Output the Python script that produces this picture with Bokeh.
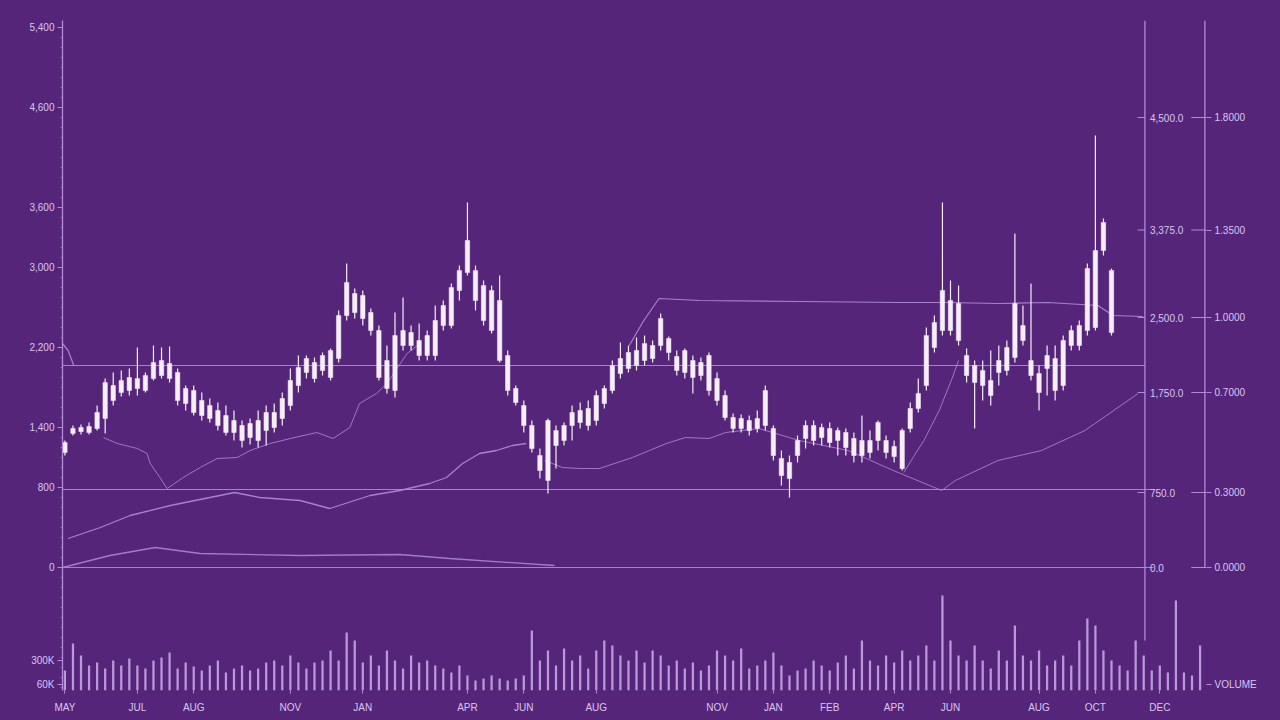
from bokeh.plotting import figure
from bokeh.models import (Range1d, LinearAxis, FixedTicker, NumeralTickFormatter)
from bokeh.core.properties import value
from bokeh.embed import file_html
from bokeh.resources import INLINE

# ---------------- data ----------------
opens = [1150,1340,1360,1350,1390,1490,1820,1750,1770,1890,1770,1890,1920,2040,1950,1790,1770,1670,1620,1570,
         1520,1470,1420,1300,1270,1370,1400,1490,1620,1820,1950,2050,1970,1900,2090,2520,2740,2720,2550,2370,
         2070,1770,2220,2350,2270,2120,2120,2420,2420,2770,2950,2970,2820,2770,2670,2120,1790,1620,1420,1120,
         870,1370,1270,1420,1450,1590,1470,1640,1770,1940,1990,2020,2070,2220,2220,2290,2110,1950,2070,1920,
         2120,1890,1720,1500,1390,1470,1390,1420,1390,1090,1050,1120,1290,1420,1300,1390,1370,1350,1290,1120,
         1270,1270,1270,1210,990,1390,1590,1820,2200,2370,2670,2640,2120,2020,1820,1870,1950,1970,2100,2420,
         2070,1940,1990,1770,1820,2220,2220,2370,2400,3170,2970]
highs = [1270,1420,1430,1450,1620,1890,1950,1970,1990,2200,1950,2220,2200,2210,1990,1820,1820,1750,1690,1650,
         1620,1570,1470,1490,1570,1620,1640,1750,1990,2120,2120,2100,2150,2190,2570,3040,2790,2770,2590,2420,
         2220,2550,2700,2420,2440,2370,2620,2670,2840,3020,3650,3020,2870,2820,2920,2170,1820,1670,1470,1190,
         1490,1420,1450,1620,1650,1670,1770,1820,2070,2250,2220,2300,2320,2270,2540,2310,2170,2190,2120,2100,
         2150,1950,1770,1540,1530,1520,1570,1820,1420,1170,1120,1320,1470,1470,1440,1450,1400,1390,1350,1520,
         1370,1470,1320,1270,1390,1650,1890,2400,2520,3650,2870,2820,2190,2070,2070,2170,2220,2270,3340,2620,
         2840,2020,2220,2220,2320,2420,2470,3040,4320,3490,2990]
lows = [1120,1320,1330,1330,1370,1340,1620,1710,1720,1720,1750,1870,1890,1850,1620,1570,1520,1470,1450,1370,
        1320,1270,1200,1230,1200,1220,1350,1420,1570,1750,1890,1850,1920,1870,2050,2470,2490,2420,2320,1870,
        1740,1700,2170,2170,2070,2070,2070,2370,2390,2670,2920,2570,2420,2340,2050,1720,1620,1350,1150,890,
        740,990,1220,1270,1390,1370,1420,1590,1740,1890,1950,1970,2020,2050,2170,2070,1920,1890,1740,1870,
        1720,1620,1470,1350,1350,1320,1350,1370,1070,820,700,1050,1190,1220,1220,1200,1120,1120,1050,1050,
        1090,1170,1090,1050,970,1350,1550,1770,2150,2320,2320,2220,1850,1390,1670,1620,1820,1920,2050,2220,
        1870,1570,1720,1670,1770,2170,2170,2320,2370,3120,2320]
closes = [1250,1390,1400,1410,1550,1850,1670,1870,1900,1790,1920,2050,2070,1890,1670,1640,1550,1520,1490,1420,
          1350,1350,1270,1440,1470,1550,1550,1690,1870,2000,2090,1890,2120,2170,2520,2850,2550,2490,2370,1900,
          1790,2320,2370,2220,2120,2320,2470,2620,2800,2970,3270,2670,2470,2370,2070,1770,1650,1420,1190,970,
          1470,1220,1420,1550,1570,1420,1720,1790,2020,2090,2150,2170,2240,2090,2490,2150,1970,2170,1900,2050,
          1770,1670,1500,1390,1490,1370,1490,1770,1120,920,890,1270,1420,1270,1400,1250,1270,1200,1120,1270,
          1150,1450,1150,1110,1370,1590,1740,2320,2450,2770,2370,2270,1920,1850,1970,1720,2070,2200,2640,2270,
          1920,1750,2120,2090,2270,2370,2420,2990,3170,3450,2350]

volume_k = [200,470,350,250,280,220,300,250,320,250,220,300,330,380,220,280,240,200,250,300,
            180,220,250,200,220,280,300,250,350,280,220,280,300,400,300,580,500,280,350,250,
            400,300,220,350,280,300,250,220,180,250,150,100,120,150,120,100,120,150,600,300,
            400,250,420,300,350,220,400,500,450,350,300,400,280,400,350,250,300,220,280,200,
            250,400,350,300,420,220,250,300,380,250,150,200,220,300,250,200,280,350,220,500,
            300,250,350,280,400,300,350,450,300,950,500,350,300,450,300,220,400,300,650,350,
            300,400,250,300,350,250,500,720,650,400,300,250,200,500,350,200,250,180,900,180,
            150,450]

# moving-average style lines (x = bar index, y = price)
ma_upper_x = [70.1, 71.9, 73.8, 78.8, 91.2, 103.5, 109.7, 115.9, 122.1, 128.3, 130.2, 133.9]
ma_upper_y = [2220, 2470, 2690, 2670, 2660, 2650, 2650, 2640, 2650, 2620, 2520, 2510]
ma_hook_x = [-0.3, 0.4, 1.1]
ma_hook_y = [2240, 2170, 2020]
ma_mid1_x = [4.8, 6.5, 9.0, 10.2, 10.6, 11.8, 12.7, 14.7, 16.8, 18.9, 21.4, 23.0, 25.5, 28.0, 31.3, 33.3,
             35.4, 36.6, 38.7, 40.0, 42.5, 44.1]
ma_mid1_y = [1300, 1240, 1190, 1140, 1040, 900, 790, 900, 1000, 1090, 1100, 1170, 1240, 1290, 1350, 1290,
             1400, 1640, 1740, 1840, 2140, 2240]
ma_mid2_x = [59.6, 61.8, 63.9, 66.4, 70.5, 74.7, 77.1, 80.0, 82.1, 86.2, 91.2, 97.3, 102.9, 108.9, 110.6,
             115.9, 121.3, 126.7, 133.3]
ma_mid2_y = [1070, 1000, 990, 990, 1100, 1240, 1300, 1290, 1350, 1390, 1270, 1170, 970, 770, 870,
             1070, 1170, 1370, 1740]
ma_steep_x = [104.2, 105.5, 106.7, 108.6, 110.1, 111.0]
ma_steep_y = [950, 1120, 1270, 1570, 1870, 2070]
ma_low_x = [0.4, 4.4, 8.1, 13.1, 18.0, 21.1, 24.2, 29.2, 32.9, 37.9, 41.6, 45.3, 47.4, 49.4, 51.5, 53.6, 55.6, 57.3]
ma_low_y = [290, 400, 520, 620, 700, 750, 700, 670, 590, 720, 770, 840, 900, 1040, 1140, 1170, 1220, 1240]
ma_base_x = [-0.3, 5.6, 11.2, 16.8, 29.2, 41.6, 47.8, 60.8]
ma_base_y = [0, 120, 200, 140, 120, 130, 90, 20]

levels = [2020, 780, 0]

left_ticks = [5400, 4600, 3600, 3000, 2200, 1400, 800, 0, -930, -1170]
left_overrides = {-930: "300K", -1170: "60K"}
inner_ticks = [4500, 3375, 2500, 1750, 750, 0]
inner_labels = ["4,500.0", "3,375.0", "2,500.0", "1,750.0", "750.0", "0.0"]
ratio_ticks = [1.8, 1.35, 1.0, 0.7, 0.3, 0.0, -0.468]
ratio_overrides = {-0.468: "VOLUME"}
date_ticks = [0, 9, 16, 28, 37, 50, 57, 66, 81, 88, 95, 103, 110, 121, 128, 136]
date_labels = ["MAY", "JUL", "AUG", "NOV", "JAN", "APR", "JUN", "AUG", "NOV", "JAN", "FEB", "APR",
               "JUN", "AUG", "OCT", "DEC"]

# ---------------- style ----------------
BG = "#55257a"
LINE = "#b48ad8"
TEXT = "#d9c5ee"
CANDLE = "#f7eefb"
FONT = "Liberation Sans"

idx = list(range(len(closes)))
vidx = list(range(len(volume_k)))

p = figure(width=1280, height=720, output_backend="svg", toolbar_location=None,
           x_range=Range1d(-0.3, 141.8), y_range=Range1d(-1230, 5470),
           min_border_left=62, min_border_right=74, min_border_top=20, min_border_bottom=30)
p.extra_y_ranges = {"vol": Range1d(0, 6700), "ratio": Range1d(-0.492, 2.188)}
p.background_fill_color = BG
p.border_fill_color = BG
p.outline_line_color = None
p.grid.visible = False

# volume
p.vbar(x=vidx, top=volume_k, width=0.28, bottom=0, y_range_name="vol",
       fill_color="#cbaeea", line_color=None, fill_alpha=0.85)

# level lines
lvl_x0 = [-0.3, -0.3, -0.3]
lvl_x1 = [134.15, 135.2, 135.2]
p.segment(x0=lvl_x0, y0=levels, x1=lvl_x1, y1=levels, line_color=LINE, line_width=1.2, line_alpha=0.9)

# MA lines
for xs, ys, w, a in [(ma_upper_x, ma_upper_y, 1.2, 0.9), (ma_hook_x, ma_hook_y, 1.2, 0.9),
                     (ma_mid1_x, ma_mid1_y, 1.0, 0.8), (ma_mid2_x, ma_mid2_y, 1.0, 0.8),
                     (ma_steep_x, ma_steep_y, 1.0, 0.8), (ma_low_x, ma_low_y, 1.3, 0.9),
                     (ma_base_x, ma_base_y, 1.3, 0.85)]:
    p.line(xs, ys, line_color=LINE, line_width=w, line_alpha=a)

# candles
p.segment(x0=idx, y0=highs, x1=idx, y1=lows, line_color=CANDLE, line_width=1.2)
p.vbar(x=idx, bottom=[min(o, c) for o, c in zip(opens, closes)],
       top=[max(o, c) for o, c in zip(opens, closes)], width=0.55,
       fill_color=CANDLE, line_color=CANDLE, line_width=0.5)

# inner right scale (inside the frame)
inner_x = 134.15
p.segment(x0=[inner_x], y0=[-730], x1=[inner_x], y1=[5470], line_color=LINE, line_width=1.3)
p.segment(x0=[inner_x - 0.9] * len(inner_ticks), y0=inner_ticks, x1=[inner_x] * len(inner_ticks),
          y1=inner_ticks, line_color=LINE, line_width=1)
p.segment(x0=[139.9] * len(inner_ticks), y0=inner_ticks, x1=[141.8] * len(inner_ticks),
          y1=inner_ticks, line_color=LINE, line_width=1)
p.text(x=[inner_x] * len(inner_ticks), y=inner_ticks, text=inner_labels, x_offset=5,
       text_align="left", text_baseline="middle", text_color=TEXT, text_font_size="10px",
       text_font=value(FONT))
# outer scale line (drawn just inside the frame edge)
p.segment(x0=[141.6], y0=[0], x1=[141.6], y1=[5470], line_color=LINE, line_width=1.3)

# left axis
ax = p.yaxis[0]
minor = [v for v in range(-1200, 5500, 100)]
ax.ticker = FixedTicker(ticks=left_ticks, minor_ticks=minor)
ax.formatter = NumeralTickFormatter(format="0,0")
ax.major_label_overrides = left_overrides

# x axis
xa = p.xaxis[0]
xa.ticker = FixedTicker(ticks=date_ticks)
xa.major_label_overrides = {t: l for t, l in zip(date_ticks, date_labels)}

# outer right axis
ra = LinearAxis(y_range_name="ratio", ticker=FixedTicker(ticks=ratio_ticks),
                formatter=NumeralTickFormatter(format="0.0000"))
ra.major_label_overrides = ratio_overrides
p.add_layout(ra, "right")

for a in [ax, xa, ra]:
    a.axis_line_color = LINE
    a.axis_line_width = 1.3
    a.major_tick_line_color = LINE
    a.minor_tick_line_color = LINE
    a.minor_tick_line_alpha = 0.6
    a.major_tick_in = 0
    a.major_tick_out = 5
    a.minor_tick_in = 0
    a.minor_tick_out = 2
    a.major_label_text_color = TEXT
    a.major_label_text_font_size = "10px"
    a.major_label_text_font = FONT
    a.major_label_standoff = 3
xa.axis_line_color = None
ra.axis_line_color = None
xa.major_tick_out = 3
xa.major_label_standoff = 8
xa.minor_tick_line_color = None
ra.minor_tick_line_color = None

html = file_html(p, INLINE, title="chart")
html = html.replace("<head>", "<head><style>html,body{background:%s;}</style>" % BG, 1)
open("out.html", "w").write(html)
